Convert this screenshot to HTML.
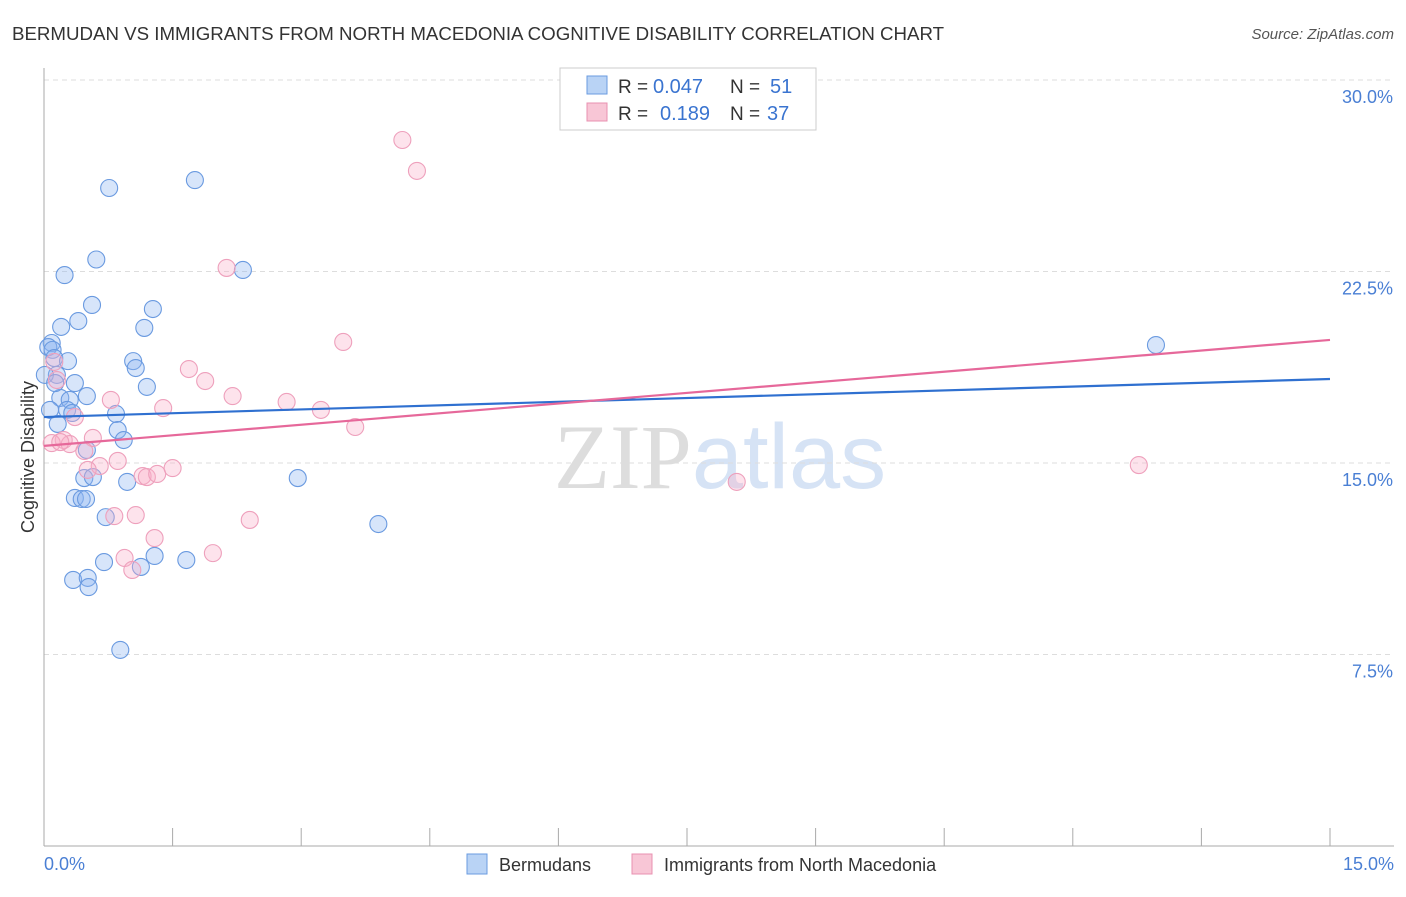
<!DOCTYPE html>
<html><head><meta charset="utf-8"><style>
body{margin:0;background:#fff;font-family:"Liberation Sans",sans-serif}
svg text{font-family:"Liberation Sans",sans-serif}
</style></head><body>
<svg id="chart" width="1406" height="892" xmlns="http://www.w3.org/2000/svg">
<text x="12" y="40" font-size="18.7" fill="#333">BERMUDAN VS IMMIGRANTS FROM NORTH MACEDONIA COGNITIVE DISABILITY CORRELATION CHART</text>
<text x="1394" y="39" font-size="15" fill="#555" font-style="italic" text-anchor="end">Source: ZipAtlas.com</text>
<text x="720" y="488" font-size="92" text-anchor="middle" fill="#ddd"><tspan font-family="Liberation Serif">ZIP</tspan><tspan fill="#d6e3f5">atlas</tspan></text>
<g id="grid"></g>
<line x1="44" y1="846" x2="1394" y2="846" stroke="#aaa"/>
<line x1="44" y1="68" x2="44" y2="846" stroke="#aaa"/>
<text transform="translate(34,457) rotate(-90)" font-size="18" fill="#333" text-anchor="middle">Cognitive Disability</text>
<text x="44" y="870" font-size="18" fill="#4a7fd4">0.0%</text>
<text x="1394" y="870" font-size="18" fill="#4a7fd4" text-anchor="end">15.0%</text>
<g id="points"></g>
<g id="trends"></g>
<g>
<rect x="560" y="68" width="256" height="62" fill="#fff" stroke="#ccc"/>
<rect x="587" y="76" width="20" height="18" fill="#b9d3f5" stroke="#6a9be0"/>
<rect x="587" y="103" width="20" height="18" fill="#f8c6d6" stroke="#e890b0"/>
<text x="618" y="93" font-size="19" fill="#333">R =</text>
<text x="653" y="93" font-size="20" fill="#3a74d0">0.047</text>
<text x="730" y="93" font-size="19" fill="#333">N =</text>
<text x="770" y="93" font-size="20" fill="#3a74d0">51</text>
<text x="618" y="120" font-size="19" fill="#333">R =</text>
<text x="660" y="120" font-size="20" fill="#3a74d0">0.189</text>
<text x="730" y="120" font-size="19" fill="#333">N =</text>
<text x="767" y="120" font-size="20" fill="#3a74d0">37</text>
</g>
<g>
<rect x="467" y="854" width="20" height="20" fill="#b9d3f5" stroke="#6a9be0"/>
<text x="499" y="871" font-size="18" fill="#333">Bermudans</text>
<rect x="632" y="854" width="20" height="20" fill="#f8c6d6" stroke="#e890b0"/>
<text x="664" y="871" font-size="18" fill="#333">Immigrants from North Macedonia</text>
</g>
</svg>
<script>
const yTicks=[7.5,15,22.5,30];
const yTickLabels=["7.5%","15.0%","22.5%","30.0%"];
const xTicks=[0,1.5,3,4.5,6,7.5,9,10.5,12,13.5,15];
const blueX=[0.76,1.76,0.61,0.24,2.32,0.56,1.27,0.40,0.20,1.17,0.09,0.05,0.10,0.12,0.28,1.04,1.07,0.15,0.36,1.20,0.19,0.30,0.50,0.07,0.27,0.33,0.84,0.16,0.86,0.93,0.50,0.47,0.57,2.96,0.97,0.36,0.44,0.49,0.72,3.90,0.70,1.29,1.66,1.13,0.34,0.51,0.52,0.89,12.97,0.01,0.13];
const blueY=[25.77,26.08,22.97,22.36,22.56,21.19,21.03,20.56,20.33,20.29,19.70,19.54,19.43,19.11,18.99,18.99,18.72,18.45,18.13,17.98,17.55,17.47,17.62,17.08,17.08,16.96,16.92,16.53,16.29,15.90,15.51,14.41,14.45,14.41,14.26,13.63,13.59,13.59,12.88,12.61,11.12,11.36,11.20,10.93,10.42,10.50,10.14,7.68,19.62,18.45,18.13];
const pinkX=[4.18,4.35,2.13,3.49,1.69,0.12,1.88,0.78,2.20,2.83,1.39,3.23,0.36,0.15,0.57,0.23,3.63,0.09,0.30,0.47,0.86,0.65,0.51,1.15,1.20,1.32,1.50,0.82,1.07,2.40,1.29,0.94,1.97,1.03,8.08,12.77,0.19];
const pinkY=[27.65,26.44,22.64,19.74,18.68,18.96,18.21,17.47,17.62,17.39,17.15,17.08,16.80,18.25,15.98,15.90,16.41,15.78,15.74,15.47,15.08,14.88,14.73,14.49,14.45,14.57,14.80,12.92,12.96,12.77,12.06,11.28,11.47,10.81,14.26,14.92,15.82];
const blueTrend=[16.80,18.29];
const pinkTrend=[15.67,19.82];
const NS="http://www.w3.org/2000/svg";
const xs=v=>44+v/15*1286;
const ys=v=>846-v/30*766;
function mk(t,a,p){const e=document.createElementNS(NS,t);for(const k in a)e.setAttribute(k,a[k]);p.appendChild(e);return e;}
const grid=document.getElementById('grid');
yTicks.forEach((t,i)=>{
 const l=mk('line',{x1:44,x2:1394,y1:ys(t),y2:ys(t),stroke:'#ddd','stroke-dasharray':'5,4'},grid);
 
 
 const tx=mk('text',{x:1393,y:ys(t)+23,'font-size':18,fill:'#4a7fd4','text-anchor':'end'},grid);
 tx.textContent=yTickLabels[i];
 
 
});
xTicks.forEach(t=>{
 const l=mk('line',{x1:xs(t),x2:xs(t),y1:846,y2:828,stroke:'#aaa'},grid);
 
 
});
const pts=document.getElementById('points');
blueX.forEach((x,i)=>{
 const c=mk('circle',{cx:xs(x),cy:ys(blueY[i]),r:8.5,fill:'rgba(140,180,240,0.35)',stroke:'#6a9ae0','stroke-width':1.1},pts);
 
 
});
pinkX.forEach((x,i)=>{
 const c=mk('circle',{cx:xs(x),cy:ys(pinkY[i]),r:8.5,fill:'rgba(248,175,200,0.35)',stroke:'#eea0bc','stroke-width':1.1},pts);
 
 
});
const tr=document.getElementById('trends');
const b=mk('line',{x1:xs(0),y1:ys(blueTrend[0]),x2:xs(15),y2:ys(blueTrend[1]),stroke:'#2f70d0','stroke-width':2.2},tr);


const p=mk('line',{x1:xs(0),y1:ys(pinkTrend[0]),x2:xs(15),y2:ys(pinkTrend[1]),stroke:'#e6689a','stroke-width':2.2},tr);


</script>
</body></html>
